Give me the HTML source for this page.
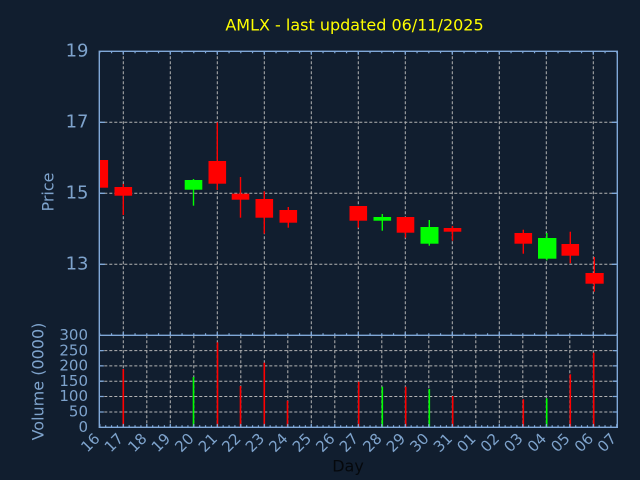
<!DOCTYPE html>
<html>
<head>
<meta charset="utf-8">
<style>
html,body{margin:0;padding:0;background:#111e2f;}
svg{display:block;}
text{font-family:"DejaVu Sans","Liberation Sans",sans-serif;}
</style>
</head>
<body>
<svg width="640" height="480" viewBox="0 0 640 480" xmlns="http://www.w3.org/2000/svg">
<rect x="0" y="0" width="640" height="480" fill="#111e2f"/>

<!-- title -->
<text x="354.5" y="30.7" font-size="16" fill="#ffff00" text-anchor="middle">AMLX - last updated 06/11/2025</text>

<!-- grid: price panel -->
<g stroke="#b4b4b4" stroke-width="1" stroke-dasharray="3 2" fill="none">
<path d="M99.3 122.3H617.3M99.3 193.3H617.3M99.3 264.3H617.3"/>
<path d="M123.3 51.3V335.3M170.3 51.3V335.3M217.3 51.3V335.3M264.3 51.3V335.3M311.3 51.3V335.3M358.3 51.3V335.3M405.3 51.3V335.3M452.3 51.3V335.3M499.3 51.3V335.3M546.3 51.3V335.3M593.3 51.3V335.3"/>
<!-- volume panel -->
<path d="M99.3 412H617.3M99.3 396.5H617.3M99.3 381.2H617.3M99.3 365.9H617.3M99.3 350.6H617.3"/>
<path d="M123.3 335.3V427.3M146.8 335.3V427.3M170.3 335.3V427.3M193.8 335.3V427.3M217.3 335.3V427.3M240.8 335.3V427.3M264.3 335.3V427.3M287.8 335.3V427.3M311.3 335.3V427.3M334.8 335.3V427.3M358.3 335.3V427.3M381.8 335.3V427.3M405.3 335.3V427.3M428.8 335.3V427.3M452.3 335.3V427.3M475.8 335.3V427.3M499.3 335.3V427.3M522.8 335.3V427.3M546.3 335.3V427.3M569.8 335.3V427.3M593.3 335.3V427.3"/>
</g>

<!-- candles -->
<g stroke-width="1.4">
<!-- 16 -->
<rect x="99.3" y="160" width="8.8" height="27.7" fill="#ff0000"/>
<!-- 17 -->
<line x1="123.3" y1="184" x2="123.3" y2="215" stroke="#ff0000"/>
<rect x="114.5" y="187" width="17.6" height="8.7" fill="#ff0000"/>
<!-- 20 -->
<line x1="193.5" y1="179" x2="193.5" y2="205.7" stroke="#00ff00"/>
<rect x="184.7" y="180" width="17.6" height="9.7" fill="#00ff00"/>
<!-- 21 -->
<line x1="217.3" y1="122.3" x2="217.3" y2="190" stroke="#ff0000"/>
<rect x="208.5" y="161" width="17.6" height="22.7" fill="#ff0000"/>
<!-- 22 -->
<line x1="240.5" y1="177" x2="240.5" y2="217.7" stroke="#ff0000"/>
<rect x="231.7" y="193.7" width="17.6" height="6" fill="#ff0000"/>
<!-- 23 -->
<line x1="264.3" y1="191.3" x2="264.3" y2="233.7" stroke="#ff0000"/>
<rect x="255.5" y="199" width="17.6" height="18.7" fill="#ff0000"/>
<!-- 24 -->
<line x1="288.3" y1="207" x2="288.3" y2="227.7" stroke="#ff0000"/>
<rect x="279.5" y="210" width="17.6" height="12.7" fill="#ff0000"/>
<!-- 27 -->
<line x1="358.3" y1="206" x2="358.3" y2="227.7" stroke="#ff0000"/>
<rect x="349.5" y="206" width="17.6" height="14.7" fill="#ff0000"/>
<!-- 28 -->
<line x1="382.3" y1="214" x2="382.3" y2="230.7" stroke="#00ff00"/>
<rect x="373.5" y="217" width="17.6" height="3.7" fill="#00ff00"/>
<!-- 29 -->
<line x1="405.5" y1="217" x2="405.5" y2="237.7" stroke="#ff0000"/>
<rect x="396.7" y="217" width="17.6" height="15.7" fill="#ff0000"/>
<!-- 30 -->
<line x1="429.3" y1="220" x2="429.3" y2="245.7" stroke="#00ff00"/>
<rect x="420.5" y="227" width="18" height="16.7" fill="#00ff00"/>
<!-- 31 -->
<line x1="452.5" y1="226" x2="452.5" y2="240.7" stroke="#ff0000"/>
<rect x="443.7" y="228" width="17.6" height="3.7" fill="#ff0000"/>
<!-- 03 -->
<line x1="523.3" y1="229.7" x2="523.3" y2="253.7" stroke="#ff0000"/>
<rect x="514.5" y="233" width="17.6" height="10.7" fill="#ff0000"/>
<!-- 04 -->
<line x1="546.8" y1="233" x2="546.8" y2="260.3" stroke="#00ff00"/>
<rect x="538" y="238" width="18.4" height="20.7" fill="#00ff00"/>
<!-- 05 -->
<line x1="570.3" y1="231.7" x2="570.3" y2="263.3" stroke="#ff0000"/>
<rect x="561.5" y="244" width="17.6" height="11.7" fill="#ff0000"/>
<!-- 06 -->
<line x1="594.3" y1="257" x2="594.3" y2="291.7" stroke="#ff0000"/>
<rect x="585.5" y="273" width="18.2" height="10.7" fill="#ff0000"/>
</g>

<!-- volume bars -->
<g stroke-width="1.6">
<line x1="123.3" y1="369" x2="123.3" y2="427.3" stroke="#ff0000"/>
<line x1="193.5" y1="377" x2="193.5" y2="427.3" stroke="#00ff00"/>
<line x1="217.5" y1="342.3" x2="217.5" y2="427.3" stroke="#ff0000"/>
<line x1="240.5" y1="386" x2="240.5" y2="427.3" stroke="#ff0000"/>
<line x1="264.3" y1="362.7" x2="264.3" y2="427.3" stroke="#ff0000"/>
<line x1="287.5" y1="400.7" x2="287.5" y2="427.3" stroke="#ff0000"/>
<line x1="358.7" y1="381.7" x2="358.7" y2="427.3" stroke="#ff0000"/>
<line x1="382.3" y1="386.7" x2="382.3" y2="427.3" stroke="#00ff00"/>
<line x1="405.7" y1="386.7" x2="405.7" y2="427.3" stroke="#ff0000"/>
<line x1="429.3" y1="389" x2="429.3" y2="427.3" stroke="#00ff00"/>
<line x1="452.7" y1="396" x2="452.7" y2="427.3" stroke="#ff0000"/>
<line x1="523.3" y1="399.3" x2="523.3" y2="427.3" stroke="#ff0000"/>
<line x1="546.7" y1="398.3" x2="546.7" y2="427.3" stroke="#00ff00"/>
<line x1="570.3" y1="374.3" x2="570.3" y2="427.3" stroke="#ff0000"/>
<line x1="593.7" y1="352.7" x2="593.7" y2="427.3" stroke="#ff0000"/>
</g>

<!-- axes frame -->
<g stroke="#80a8d8" stroke-width="1.4" fill="none">
<rect x="99.3" y="51.3" width="518" height="376"/>
<line x1="99.3" y1="335.3" x2="617.3" y2="335.3"/>
</g>

<!-- ticks -->
<g stroke="#80a8d8" fill="none">
<!-- price top -->
<line x1="99.2" y1="52.3" x2="617.6" y2="52.3" stroke-width="2" stroke-dasharray="1.2 10.55"/>
<line x1="122.7" y1="53" x2="617.6" y2="53" stroke-width="3.4" stroke-dasharray="1.2 45.8"/>
<!-- price bottom -->
<line x1="99.2" y1="334.3" x2="617.6" y2="334.3" stroke-width="2" stroke-dasharray="1.2 10.55"/>
<line x1="122.7" y1="333.6" x2="617.6" y2="333.6" stroke-width="3.4" stroke-dasharray="1.2 45.8"/>
<!-- volume bottom -->
<line x1="99.2" y1="426.3" x2="617.6" y2="426.3" stroke-width="2" stroke-dasharray="1.2 4.675"/>
<line x1="99.2" y1="425.6" x2="617.6" y2="425.6" stroke-width="3.4" stroke-dasharray="1.2 22.3"/>
<!-- y ticks -->
<g stroke-width="1.3">
<path d="M99.3 122.3H104.8M99.3 193.3H104.8M99.3 264.3H104.8M611.8 122.3H617.3M611.8 193.3H617.3M611.8 264.3H617.3"/>
<path d="M99.3 412H103.8M99.3 396.5H103.8M99.3 381.2H103.8M99.3 365.9H103.8M99.3 350.6H103.8M612.8 412H617.3M612.8 396.5H617.3M612.8 381.2H617.3M612.8 365.9H617.3M612.8 350.6H617.3"/>
</g>
</g>

<!-- y labels price -->
<g fill="#7ea3cc" font-size="18" text-anchor="end">
<text x="88.5" y="56.7">19</text>
<text x="88.5" y="127.7">17</text>
<text x="88.5" y="198.7">15</text>
<text x="88.5" y="269.7">13</text>
</g>
<!-- y labels volume -->
<g fill="#7ea3cc" font-size="15" text-anchor="end">
<text x="88" y="340">300</text>
<text x="88" y="355.3">250</text>
<text x="88" y="370.6">200</text>
<text x="88" y="385.9">150</text>
<text x="88" y="401.2">100</text>
<text x="88" y="416.5">50</text>
<text x="88" y="431.8">0</text>
</g>

<!-- axis titles -->
<text transform="translate(53.3,192) rotate(-90)" font-size="16" fill="#7ea3cc" text-anchor="middle">Price</text>
<text transform="translate(43.5,381.5) rotate(-90)" font-size="16" fill="#7ea3cc" text-anchor="middle">Volume (0000)</text>
<text x="348" y="471.7" font-size="16" fill="#05080c" text-anchor="middle">Day</text>

<!-- x labels -->
<g fill="#7ea3cc" font-size="15" text-anchor="end">
<text transform="translate(100.8,439.5) rotate(-45)">16</text>
<text transform="translate(124.3,439.5) rotate(-45)">17</text>
<text transform="translate(147.8,439.5) rotate(-45)">18</text>
<text transform="translate(171.3,439.5) rotate(-45)">19</text>
<text transform="translate(194.8,439.5) rotate(-45)">20</text>
<text transform="translate(218.3,439.5) rotate(-45)">21</text>
<text transform="translate(241.8,439.5) rotate(-45)">22</text>
<text transform="translate(265.3,439.5) rotate(-45)">23</text>
<text transform="translate(288.8,439.5) rotate(-45)">24</text>
<text transform="translate(312.3,439.5) rotate(-45)">25</text>
<text transform="translate(335.8,439.5) rotate(-45)">26</text>
<text transform="translate(359.3,439.5) rotate(-45)">27</text>
<text transform="translate(382.8,439.5) rotate(-45)">28</text>
<text transform="translate(406.3,439.5) rotate(-45)">29</text>
<text transform="translate(429.8,439.5) rotate(-45)">30</text>
<text transform="translate(453.3,439.5) rotate(-45)">31</text>
<text transform="translate(476.8,439.5) rotate(-45)">01</text>
<text transform="translate(500.3,439.5) rotate(-45)">02</text>
<text transform="translate(523.8,439.5) rotate(-45)">03</text>
<text transform="translate(547.3,439.5) rotate(-45)">04</text>
<text transform="translate(570.8,439.5) rotate(-45)">05</text>
<text transform="translate(594.3,439.5) rotate(-45)">06</text>
<text transform="translate(617.3,439.5) rotate(-45)">07</text>
</g>
</svg>
</body>
</html>
